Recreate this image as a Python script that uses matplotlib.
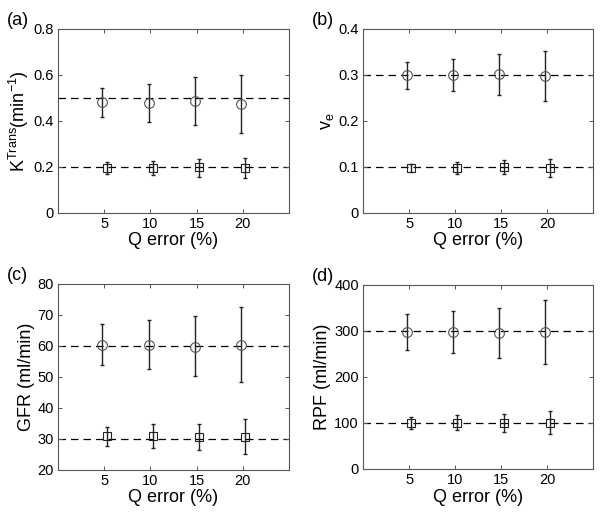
import matplotlib
matplotlib.use("Agg")
import matplotlib.pyplot as plt
import numpy as np

plt.rcParams['font.family'] = ['Liberation Sans', 'DejaVu Sans']
plt.rcParams['mathtext.fontset'] = 'custom'
plt.rcParams['mathtext.rm'] = 'Liberation Sans'
plt.rcParams['mathtext.it'] = 'Liberation Sans'

q_error = [5, 10, 15, 20]
xticks = [5, 10, 15, 20]

# Panel (a) Ktrans
a_true = [0.5, 0.2]
a_circ_mean = [0.480, 0.478, 0.484, 0.474]
a_circ_lo = [0.417, 0.394, 0.380, 0.346]
a_circ_hi = [0.542, 0.561, 0.590, 0.601]
a_sq_mean = [0.197, 0.197, 0.198, 0.194]
a_sq_lo = [0.170, 0.164, 0.158, 0.151]
a_sq_hi = [0.220, 0.225, 0.236, 0.239]

# Panel (b) ve
b_true = [0.3, 0.1]
b_circ_mean = [0.300, 0.2985, 0.3015, 0.297]
b_circ_lo = [0.270, 0.2645, 0.2565, 0.243]
b_circ_hi = [0.3275, 0.334, 0.345, 0.351]
b_sq_mean = [0.0985, 0.098, 0.0995, 0.097]
b_sq_lo = [0.0885, 0.085, 0.084, 0.078]
b_sq_hi = [0.107, 0.110, 0.115, 0.117]

# Panel (c) GFR
c_true = [60, 30]
c_circ_mean = [60.3, 60.4, 59.8, 60.3]
c_circ_lo = [53.9, 52.5, 50.4, 48.4]
c_circ_hi = [67.1, 68.4, 69.5, 72.5]
c_sq_mean = [31.0, 31.0, 30.7, 30.7]
c_sq_lo = [27.7, 27.0, 26.4, 25.2]
c_sq_hi = [34.0, 34.7, 34.9, 36.5]

# Panel (d) RPF
d_true = [300, 100]
d_circ_mean = [297.8, 297.8, 295.0, 298.5]
d_circ_lo = [259, 252, 240, 227.6]
d_circ_hi = [336, 343, 349, 368]
d_sq_mean = [100.5, 100.7, 100.0, 100.7]
d_sq_lo = [86.3, 84.0, 79.7, 75.4]
d_sq_hi = [113.8, 116.7, 118.9, 126.7]

panels = [
    ('(a)', r'K$^{\mathrm{Trans}}$(min$^{-1}$)', (0, 0.8), [0, 0.2, 0.4, 0.6, 0.8], ['0', '0.2', '0.4', '0.6', '0.8'],
     a_true, a_circ_mean, a_circ_lo, a_circ_hi, a_sq_mean, a_sq_lo, a_sq_hi),
    ('(b)', r'v$_{\mathrm{e}}$', (0, 0.4), [0, 0.1, 0.2, 0.3, 0.4], ['0', '0.1', '0.2', '0.3', '0.4'],
     b_true, b_circ_mean, b_circ_lo, b_circ_hi, b_sq_mean, b_sq_lo, b_sq_hi),
    ('(c)', 'GFR (ml/min)', (20, 80), [20, 30, 40, 50, 60, 70, 80], ['20', '30', '40', '50', '60', '70', '80'],
     c_true, c_circ_mean, c_circ_lo, c_circ_hi, c_sq_mean, c_sq_lo, c_sq_hi),
    ('(d)', 'RPF (ml/min)', (0, 400), [0, 100, 200, 300, 400], ['0', '100', '200', '300', '400'],
     d_true, d_circ_mean, d_circ_lo, d_circ_hi, d_sq_mean, d_sq_lo, d_sq_hi),
]

positions = [
    [0.0967, 0.585, 0.385, 0.359],
    [0.605, 0.585, 0.384, 0.359],
    [0.0967, 0.084, 0.385, 0.3626],
    [0.605, 0.0858, 0.384, 0.359],
]

fig = plt.figure(figsize=(6.0, 5.13), dpi=100)
spine_col = '#555555'

for pos, p in zip(positions, panels):
    (lab, ylab, ylim, yt, ytl, true, cm, clo, chi, sm, slo, shi) = p
    ax = fig.add_axes(pos)
    ax.set_xlim(0, 25)
    ax.set_ylim(*ylim)
    for t in true:
        ax.axhline(t, color='black', lw=0.9, ls=(0, (6, 4)), zorder=1)
    xc = np.array(q_error) - 0.2
    xs = np.array(q_error) + 0.25
    cm_a = np.array(cm); sm_a = np.array(sm)
    ax.errorbar(xc, cm_a, yerr=[cm_a - np.array(clo), np.array(chi) - cm_a],
                fmt='none', ecolor='#222222', elinewidth=1.0, capsize=1.5, capthick=1.0, zorder=2)
    ax.plot(xc, cm_a, ls='none', marker='o', ms=7, mfc='none', mec='#555555', mew=0.8, zorder=3)
    ax.errorbar(xs, sm_a, yerr=[sm_a - np.array(slo), np.array(shi) - sm_a],
                fmt='none', ecolor='#222222', elinewidth=1.0, capsize=1.5, capthick=1.0, zorder=2)
    ax.plot(xs, sm_a, ls='none', marker='s', ms=5.5, mfc='none', mec='#222222', mew=0.8, zorder=3)
    ax.set_xticks(xticks)
    ax.set_xticklabels([str(v) for v in xticks], fontsize=10.5)
    ax.set_yticks(yt)
    ax.set_yticklabels(ytl, fontsize=10.5)
    ax.tick_params(direction='in', top=True, right=True, length=3, width=0.7, color=spine_col, pad=3)
    for s in ax.spines.values():
        s.set_color(spine_col)
        s.set_linewidth(0.8)
    ax.set_xlabel('Q error (%)', fontsize=13, labelpad=1)
    ax.set_ylabel(ylab, fontsize=13, labelpad=2)
    ax.text(-0.22, 1.0, lab, transform=ax.transAxes, fontsize=13, ha='left', va='bottom')

fig.savefig('out.png', dpi=100)
